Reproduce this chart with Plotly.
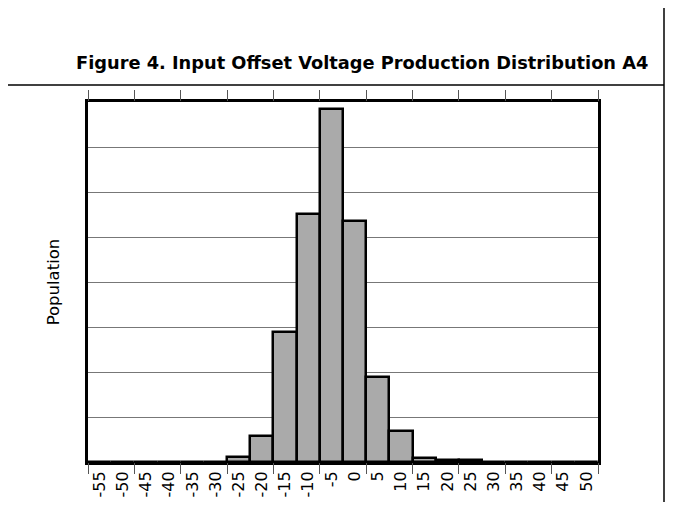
import plotly.graph_objects as go

# Data
bin_centers = [-55, -50, -45, -40, -35, -30, -25, -20, -15, -10, -5, 0, 5, 10, 15, 20, 25, 30, 35, 40, 45, 50]
population = [0, 0, 0, 0, 0, 0, 0.11, 0.57, 2.89, 5.52, 7.84, 5.35, 1.89, 0.68, 0.1, 0.04, 0.04, 0, 0, 0, 0, 0]
tick_labels = [str(v) for v in bin_centers]
edge_ticks = [-57.5 + 10 * k for k in range(12)]

# page body has an 8px margin; figure sized to fit inside the 673x510 window
OFF = 8
W, H = 657, 494
L, R, T, B = 80, 67, 94, 40
pw = W - L - R
ph = H - T - B

def px_x(p):  # p: screenshot pixel x
    return (p - OFF - L) / pw

def px_y(p):  # p: screenshot pixel y
    return (H - B - (p - OFF)) / ph

FONT = "DejaVu Sans, Liberation Sans, Arial, sans-serif"

fig = go.Figure()
fig.add_trace(go.Bar(
    x=bin_centers, y=population, width=5,
    marker=dict(color="#aaaaaa", line=dict(color="black", width=2.5)),
    showlegend=False, hoverinfo="x+y",
))
fig.add_trace(go.Scatter(x=[bin_centers[0]], y=[0], xaxis="x2", mode="markers",
                         marker=dict(opacity=0), showlegend=False, hoverinfo="skip"))
fig.add_trace(go.Scatter(x=[bin_centers[0]], y=[0], xaxis="x3", mode="markers",
                         marker=dict(opacity=0), showlegend=False, hoverinfo="skip"))

fig.update_layout(
    width=W, height=H,
    margin=dict(l=L, r=R, t=T, b=B),
    paper_bgcolor="white", plot_bgcolor="white",
    bargap=0,
    font=dict(family=FONT, color="black"),
    xaxis=dict(
        range=[-57.5, 52.5], tickmode="array", tickvals=bin_centers, ticktext=tick_labels,
        tickangle=-90, ticks="", tickfont=dict(size=16), showgrid=False, zeroline=False,
        showline=True, linecolor="black", linewidth=3, mirror=True, automargin=False,
    ),
    xaxis2=dict(
        overlaying="x", matches="x", side="bottom", tickmode="array", tickvals=edge_ticks,
        ticks="outside", ticklen=11, tickwidth=1, tickcolor="#555555",
        showticklabels=False, showgrid=False, zeroline=False, showline=False,
    ),
    xaxis3=dict(
        overlaying="x", matches="x", side="top", tickmode="array", tickvals=edge_ticks,
        ticks="outside", ticklen=11, tickwidth=1, tickcolor="#555555",
        showticklabels=False, showgrid=False, zeroline=False, showline=False,
    ),
    yaxis=dict(
        range=[0, 8], tickmode="linear", tick0=0, dtick=1, showticklabels=False, ticks="",
        showgrid=True, gridcolor="#777777", gridwidth=1, zeroline=False,
        showline=True, linecolor="black", linewidth=3, mirror=True, automargin=False,
        title=dict(text="Population", font=dict(size=16.5), standoff=22),
    ),
    shapes=[
        dict(type="line", xref="paper", yref="paper", x0=px_x(OFF), x1=px_x(664),
             y0=px_y(85), y1=px_y(85), line=dict(color="black", width=1.5)),
        dict(type="line", xref="paper", yref="paper", x0=px_x(664), x1=px_x(664),
             y0=px_y(OFF), y1=px_y(502), line=dict(color="black", width=1.5)),
    ],
    annotations=[
        dict(text="<b>Figure 4. Input Offset Voltage Production Distribution A4</b>",
             xref="paper", yref="paper", x=px_x(650), y=px_y(63), xanchor="right", yanchor="middle",
             showarrow=False, font=dict(size=17.8, family=FONT)),
    ],
)

fig.write_html("out.html")
